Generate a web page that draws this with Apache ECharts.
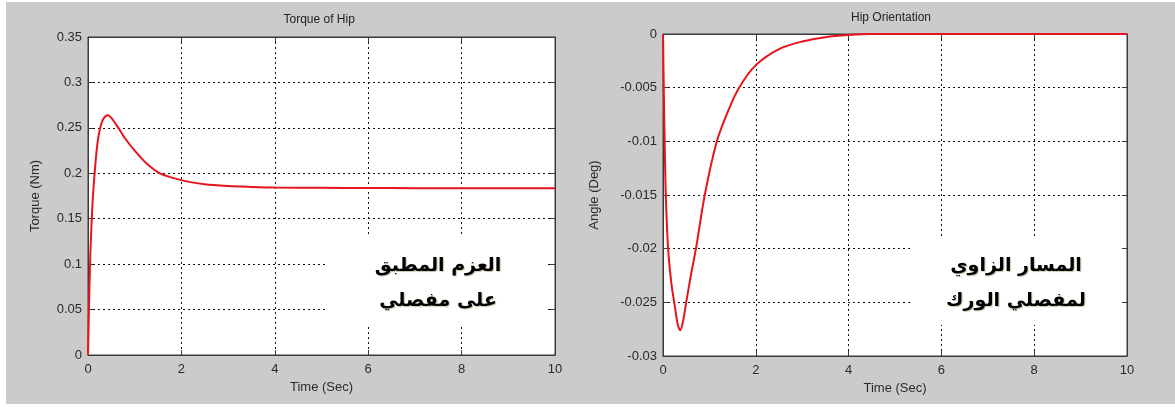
<!DOCTYPE html>
<html>
<head>
<meta charset="utf-8">
<script src="https://cdn.jsdelivr.net/npm/echarts@6/dist/echarts.min.js"></script>
<style>
html,body{margin:0;padding:0;background:#ffffff;width:1175px;height:407px;overflow:hidden;}
#chart{position:absolute;left:6px;top:2px;width:1169px;height:402px;}
</style>
</head>
<body>
<div id="chart"></div>
<script>
// ---- Data ----
const torqueTitle = "Torque of Hip";
const angleTitle = "Hip Orientation";
const xAxisName = "Time (Sec)";
const torqueAxisName = "Torque (Nm)";
const angleAxisName = "Angle (Deg)";
const torqueNote = ["العزم المطبق", "على مفصلي"];
const angleNote = ["المسار الزاوي", "لمفصلي الورك"];

const torqueTime = [0, 0.02, 0.05, 0.1, 0.15, 0.2, 0.26, 0.33, 0.42, 0.5, 0.65, 0.8, 1.0, 1.25, 1.54, 2.0, 2.5, 3.0, 3.5, 4.0, 5.0, 6.0, 7.0, 8.0, 9.0, 10.0];
const torqueValues = [0, 0.05, 0.11, 0.17, 0.205, 0.232, 0.25, 0.26, 0.264, 0.261, 0.25, 0.238, 0.225, 0.211, 0.2, 0.1925, 0.188, 0.186, 0.185, 0.1843, 0.184, 0.1838, 0.1836, 0.1835, 0.1835, 0.1835];

const angleTime = [0, 0.02, 0.04, 0.06, 0.11, 0.18, 0.26, 0.32, 0.37, 0.43, 0.5, 0.6, 0.71, 0.9, 1.16, 1.4, 1.64, 2.0, 2.5, 3.0, 3.5, 4.0, 4.5, 6.0, 8.0, 10.0];
const angleValues = [0, -0.006, -0.011, -0.015, -0.02, -0.0232, -0.0255, -0.0271, -0.0276, -0.0268, -0.025, -0.0225, -0.02, -0.015, -0.01, -0.0072, -0.005, -0.0029, -0.0014, -0.0007, -0.0003, -0.0001, 0, 0, 0, 0];

const xTicks = {min: 0, max: 10, interval: 2};
const torqueTicks = {min: 0, max: 0.35, interval: 0.05};
const angleTicks = {min: -0.03, max: 0, interval: 0.005};

// ---- Chart ----
const chart = echarts.init(document.getElementById('chart'), null, {renderer: 'canvas'});
const pairs = (xs, ys) => xs.map((x, i) => [x, ys[i]]);

const axisColor = '#3a3a3a';
const labelStyle = {color: '#2a2a2a', fontSize: 13, fontFamily: 'Liberation Sans, Arial, sans-serif'};
const gridLine = {show: true, lineStyle: {color: '#111', type: [2, 3], width: 1}};

function mainX(gi) {
  return {
    type: 'value', gridIndex: gi, ...xTicks, position: 'bottom',
    name: xAxisName, nameLocation: 'middle', nameGap: 26,
    nameTextStyle: {color: '#2a2a2a', fontSize: 13, fontFamily: 'Liberation Sans, Arial, sans-serif'},
    axisLine: {show: true, onZero: false, lineStyle: {color: axisColor}},
    axisTick: {show: true, inside: true, length: 5, lineStyle: {color: axisColor}},
    axisLabel: {...labelStyle, margin: 8, showMinLabel: true, showMaxLabel: true},
    splitLine: gridLine
  };
}
function topX(gi) {
  return {
    type: 'value', gridIndex: gi, ...xTicks, position: 'top',
    axisLine: {show: true, onZero: false, lineStyle: {color: axisColor}},
    axisTick: {show: true, inside: true, length: 5, lineStyle: {color: axisColor}},
    axisLabel: {show: false}, splitLine: {show: false}
  };
}
function mainY(gi, ticks, name, gap) {
  return {
    type: 'value', gridIndex: gi, ...ticks, position: 'left',
    name: name, nameLocation: 'middle', nameGap: gap,
    nameTextStyle: {color: '#2a2a2a', fontSize: 13, fontFamily: 'Liberation Sans, Arial, sans-serif'},
    axisLine: {show: true, onZero: false, lineStyle: {color: axisColor}},
    axisTick: {show: true, inside: true, length: 5, lineStyle: {color: axisColor}},
    axisLabel: {...labelStyle, margin: 6, showMinLabel: true, showMaxLabel: true},
    splitLine: gridLine
  };
}
function rightY(gi, ticks) {
  return {
    type: 'value', gridIndex: gi, ...ticks, position: 'right',
    axisLine: {show: true, onZero: false, lineStyle: {color: axisColor}},
    axisTick: {show: true, inside: true, length: 5, lineStyle: {color: axisColor}},
    axisLabel: {show: false}, splitLine: {show: false}
  };
}

const L = {left: 82, top: 35, width: 467, height: 318};
const R = {left: 657, top: 32, width: 464, height: 322};

const noteFont = 'bold 19px "DejaVu Sans", sans-serif';
const shadow = {textShadowColor: 'rgba(110,90,0,0.35)', textShadowBlur: 1, textShadowOffsetX: 1, textShadowOffsetY: 1};

function noteGraphics(box, lines) {
  return [
    {type: 'rect', left: box.x, top: box.y, z: 50, shape: {width: box.w, height: box.h}, style: {fill: '#ffffff'}},
    {type: 'text', x: box.x + box.w / 2, y: box.y + 30, z: 51, style: {text: lines[0], fill: '#000', font: noteFont, align: 'center', verticalAlign: 'middle', ...shadow}},
    {type: 'text', x: box.x + box.w / 2, y: box.y + 65, z: 51, style: {text: lines[1], fill: '#000', font: noteFont, align: 'center', verticalAlign: 'middle', ...shadow}}
  ];
}

const option = {
  backgroundColor: '#cbcbcb',
  animation: false,
  grid: [
    {...L, show: true, backgroundColor: '#ffffff', borderColor: axisColor, borderWidth: 1},
    {...R, show: true, backgroundColor: '#ffffff', borderColor: axisColor, borderWidth: 1}
  ],
  xAxis: [mainX(0), topX(0), mainX(1), topX(1)],
  yAxis: [mainY(0, torqueTicks, torqueAxisName, 46), rightY(0, torqueTicks), mainY(1, angleTicks, angleAxisName, 62), rightY(1, angleTicks)],
  graphic: [
    {type: 'text', left: L.left + L.width / 2 - 38, top: 12, style: {text: torqueTitle, fill: '#222', font: '12px "Liberation Sans", Arial, sans-serif'}},
    {type: 'text', left: R.left + R.width / 2 - 44, top: 10, style: {text: angleTitle, fill: '#222', font: '12px "Liberation Sans", Arial, sans-serif'}},
    ...noteGraphics({x: 322, y: 234, w: 220, h: 89}, torqueNote),
    ...noteGraphics({x: 904, y: 234, w: 212, h: 89}, angleNote)
  ],
  series: [
    {type: 'line', xAxisIndex: 0, yAxisIndex: 0, data: pairs(torqueTime, torqueValues), smooth: 0.3, showSymbol: false, lineStyle: {color: '#e8141c', width: 2}, z: 10},
    {type: 'line', xAxisIndex: 2, yAxisIndex: 2, data: pairs(angleTime, angleValues), smooth: 0.3, showSymbol: false, lineStyle: {color: '#e8141c', width: 2}, z: 10, clip: false}
  ]
};
chart.setOption(option);
</script>
</body>
</html>
